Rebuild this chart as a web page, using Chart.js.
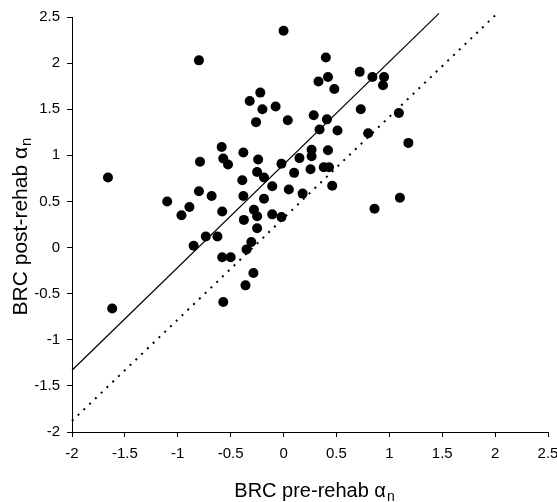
<!DOCTYPE html>
<html>
<head>
<meta charset="utf-8">
<script src="https://cdn.jsdelivr.net/npm/chart.js@4/dist/chart.umd.min.js"></script>
<style>
  html, body { margin: 0; padding: 0; background: #fff; }
  #wrap { width: 557px; height: 502px; position: relative; }
</style>
</head>
<body>
<div id="wrap"><canvas id="brcChart"></canvas></div>
<script>
// data
const preRehab = [
  -1.66, -1.62, -1.10, -0.965, -0.89, -0.85, -0.80, -0.79, -0.80, -0.735,
  -0.68, -0.625, -0.585, -0.57, -0.525, -0.58, -0.58, -0.50, -0.57, -0.38,
  -0.39, -0.38, -0.375, -0.36, -0.35, -0.305, -0.285, -0.32, -0.26, -0.22,
  -0.20, -0.24, -0.25, -0.185, -0.185, -0.28, -0.25, -0.25, -0.107, -0.107,
  -0.075, 0.0, -0.02, -0.02, 0.04, 0.05, 0.10, 0.15, 0.18, 0.265,
  0.265, 0.255, 0.38, 0.43, 0.42, 0.46, 0.285, 0.41, 0.34, 0.51,
  0.33, 0.42, 0.40, 0.48, 0.72, 0.84, 0.95, 0.94, 0.73, 0.80,
  1.09, 1.18, 1.10, 0.86
];
const postRehab = [
  0.76, -0.66, 0.50, 0.35, 0.44, 0.02, 2.03, 0.93, 0.61, 0.12,
  0.56, 0.12, 1.09, 0.965, 0.90, 0.39, -0.105, -0.105, -0.59, 1.03,
  0.73, 0.56, 0.30, -0.41, -0.02, 0.06, -0.275, 1.59, 1.36, 1.68,
  1.50, 0.955, 0.82, 0.76, 0.53, 0.41, 0.34, 0.21, 0.665, 0.36,
  1.53, 2.35, 0.91, 0.33, 1.38, 0.63, 0.81, 0.97, 0.585, 1.06,
  0.99, 0.85, 0.87, 0.87, 1.055, 0.67, 1.435, 1.39, 1.28, 1.27,
  1.80, 1.85, 2.06, 1.72, 1.905, 1.85, 1.85, 1.76, 1.50, 1.24,
  1.46, 1.135, 0.54, 0.42
];

// regression line (solid) and reference line (dotted), end points
const fitLineX = [-2, 1.47];
const fitLineY = [-1.33, 2.54];
const refLineX = [-2, 2.03];
const refLineY = [-1.88, 2.55];

const xTitle = 'BRC pre-rehab \u03B1';
const yTitle = 'BRC post-rehab \u03B1';
const titleSub = 'n';

const FONT = '"Liberation Sans", Arial, sans-serif';

function toPoints(xs, ys) {
  return xs.map((x, i) => ({ x: x, y: ys[i] }));
}

function fmtTick(v) {
  return String(Math.round(v * 10) / 10);
}

// draws "text" + subscript, centred at (cx, baseline) in current transform
function drawSubTitle(ctx, text, sub, cx, baseY, size) {
  ctx.font = size + 'px ' + FONT;
  const mainW = ctx.measureText(text).width;
  ctx.font = Math.round(size * 0.7) + 'px ' + FONT;
  const subW = ctx.measureText(sub).width;
  const x0 = cx - (mainW + subW) / 2;
  ctx.textAlign = 'left';
  ctx.textBaseline = 'alphabetic';
  ctx.font = size + 'px ' + FONT;
  ctx.fillText(text, x0, baseY);
  ctx.font = Math.round(size * 0.7) + 'px ' + FONT;
  ctx.fillText(sub, x0 + mainW + 1, baseY + 4);
}

const axisTitles = {
  id: 'axisTitles',
  afterDraw(chart) {
    const ctx = chart.ctx;
    ctx.save();
    ctx.fillStyle = '#000';
    drawSubTitle(ctx, xTitle, titleSub, 314, 497, 20);
    ctx.translate(27, 227);
    ctx.rotate(-Math.PI / 2);
    drawSubTitle(ctx, yTitle, titleSub, 0, 0, 21);
    ctx.restore();
  }
};

const scatterSet = {
  type: 'scatter',
  data: toPoints(preRehab, postRehab),
  backgroundColor: '#000',
  borderColor: '#000',
  pointRadius: 5,
  borderWidth: 0,
  pointHoverRadius: 5
};

const fitSet = {
  type: 'line',
  data: toPoints(fitLineX, fitLineY),
  borderColor: '#000',
  borderWidth: 1.2,
  pointRadius: 0,
  fill: false,
  clip: false
};

const refSet = {
  type: 'line',
  data: toPoints(refLineX, refLineY),
  borderColor: '#000',
  borderWidth: 2,
  borderDash: [2, 6],
  pointRadius: 0,
  fill: false,
  clip: false
};

const tickFont = { family: FONT, size: 15 };

new Chart(document.getElementById('brcChart'), {
  type: 'scatter',
  data: { datasets: [refSet, fitSet, scatterSet] },
  options: {
    responsive: true,
    maintainAspectRatio: false,
    animation: false,
    layout: { padding: { left: 0, top: 17, right: 9, bottom: 0 } },
    plugins: { legend: { display: false }, tooltip: { enabled: false } },
    scales: {
      x: {
        type: 'linear',
        min: -2, max: 2.5,
        afterFit(scale) { scale.height = 70; scale.paddingLeft = 0; scale.paddingRight = 0; },
        ticks: { stepSize: 0.5, color: '#000', font: tickFont, padding: 8, maxRotation: 0, callback: fmtTick },
        grid: { drawOnChartArea: false, tickLength: 5, color: '#000' },
        border: { color: '#000', width: 1 }
      },
      y: {
        type: 'linear',
        min: -2, max: 2.5,
        afterFit(scale) { scale.width = 72; },
        ticks: { stepSize: 0.5, color: '#000', font: tickFont, padding: 7, callback: fmtTick },
        grid: { drawOnChartArea: false, tickLength: 5, color: '#000' },
        border: { color: '#000', width: 1 }
      }
    }
  },
  plugins: [axisTitles]
});
</script>
</body>
</html>
